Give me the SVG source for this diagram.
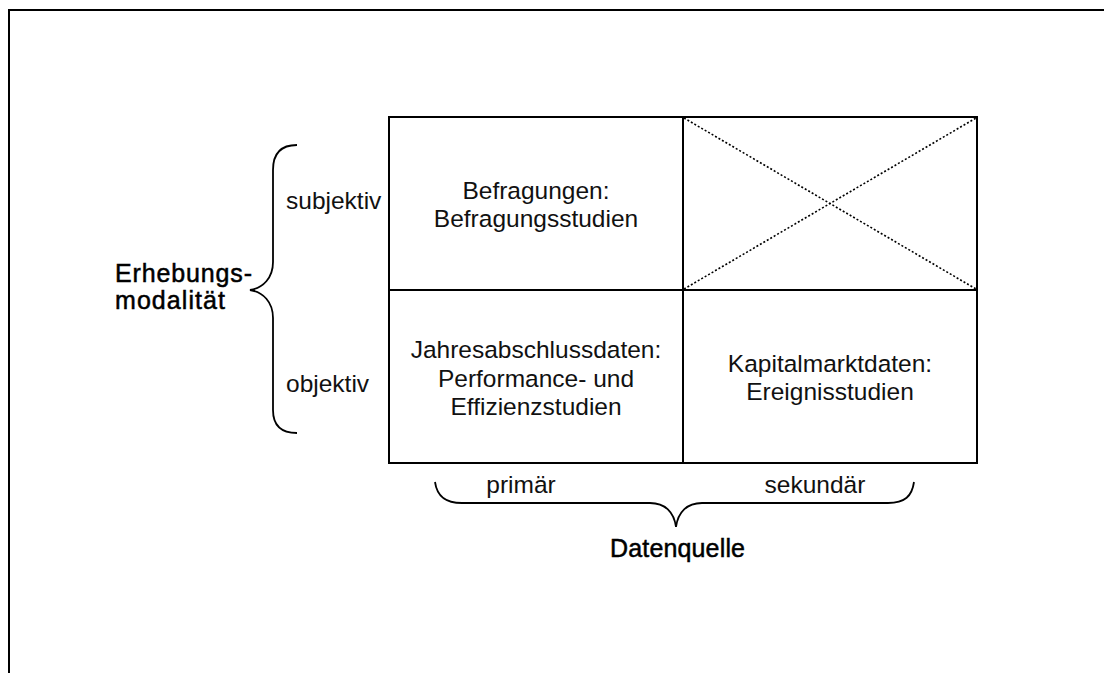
<svg xmlns="http://www.w3.org/2000/svg" width="1104" height="673" viewBox="0 0 1104 673">
<style>
.t{font-family:"Liberation Sans",Arial,sans-serif;font-size:24.5px;fill:#111}
.c{text-anchor:middle}
.h{font-family:"Liberation Sans",Arial,sans-serif;font-size:25px;fill:#000;stroke:#000;stroke-width:0.5}
.ln{fill:none;stroke:#000;stroke-width:2}
.br{fill:none;stroke:#000;stroke-width:1.8}
.dot{fill:none;stroke:#000;stroke-width:1.6;stroke-dasharray:2 2}
</style>
<rect width="1104" height="673" fill="#fff"/>
<path class="ln" d="M9 673 V10 H1104"/>
<g id="grid">
<rect class="ln" x="389" y="117" width="588" height="346"/>
<line class="ln" x1="683" y1="117" x2="683" y2="463"/>
<line class="ln" x1="389" y1="290" x2="977" y2="290"/>
</g>
<g id="cell-befragungen">
<text class="t c" x="536" y="199">Befragungen:</text>
<text class="t c" x="536" y="227">Befragungsstudien</text>
</g>
<g id="cell-empty">
<line class="dot" x1="684" y1="118" x2="976" y2="289"/>
<line class="dot" x1="684" y1="289" x2="976" y2="118"/>
</g>
<g id="cell-jahresabschluss">
<text class="t c" x="536" y="358">Jahresabschlussdaten:</text>
<text class="t c" x="536" y="387">Performance- und</text>
<text class="t c" x="536" y="415">Effizienzstudien</text>
</g>
<g id="cell-kapitalmarkt">
<text class="t c" x="830" y="372">Kapitalmarktdaten:</text>
<text class="t c" x="830" y="400">Ereignisstudien</text>
</g>
<g id="left-brace">
<path class="br" d="M297 145 C281 145 273 154 273 170 L273 262 C273 278 263 288 250 290 C263 292 273 302 273 318 L273 410 C273 426 281 433 297 433"/>
<text class="t" x="286" y="209">subjektiv</text>
<text class="t" x="286" y="392">objektiv</text>
<text class="h" x="115" y="282" textLength="137" lengthAdjust="spacing">Erhebungs-</text>
<text class="h" x="115" y="309" textLength="110" lengthAdjust="spacing">modalität</text>
</g>
<g id="bottom-brace">
<path class="br" d="M435 482 C437 496 445 503 462 503 L650 503 C665 503 674 512 676 527 C678 512 687 503 702 503 L888 503 C905 503 912 496 914 482"/>
<text class="t c" x="521" y="493">primär</text>
<text class="t c" x="815" y="493">sekundär</text>
<text class="h" x="610" y="557" textLength="135" lengthAdjust="spacing">Datenquelle</text>
</g>
</svg>
